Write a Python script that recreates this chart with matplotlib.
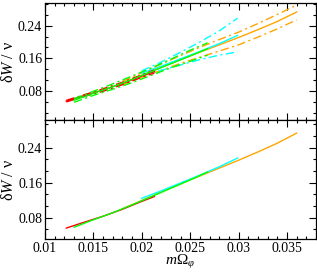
import matplotlib
matplotlib.use("Agg")
import matplotlib.pyplot as plt
from matplotlib.ticker import MultipleLocator

plt.rcParams['font.family'] = ['Liberation Serif', 'DejaVu Serif']
plt.rcParams['mathtext.fontset'] = 'custom'
plt.rcParams['mathtext.rm'] = 'Liberation Serif'
plt.rcParams['mathtext.it'] = 'Liberation Serif:italic'
plt.rcParams['font.size'] = 10

# curves: x, central value, upper and lower error bands
red_x = [0.0122, 0.014, 0.016, 0.018, 0.020, 0.0213]
red_mid = [0.056, 0.069, 0.083, 0.099, 0.117, 0.128]
red_hi = [0.058, 0.071, 0.086, 0.102, 0.120, 0.132]
red_lo = [0.054, 0.067, 0.080, 0.096, 0.114, 0.124]

green_x = [0.013, 0.015, 0.017, 0.019, 0.021, 0.023, 0.025, 0.0268]
green_mid = [0.058, 0.075, 0.091, 0.109, 0.128, 0.147, 0.166, 0.184]
green_hi = [0.062, 0.080, 0.098, 0.117, 0.137, 0.158, 0.180, 0.198]
green_lo = [0.053, 0.070, 0.085, 0.101, 0.119, 0.137, 0.153, 0.168]

orange_x = [0.018, 0.020, 0.022, 0.024, 0.026, 0.028, 0.030, 0.032, 0.034, 0.036]
orange_mid = [0.100, 0.119, 0.138, 0.157, 0.175, 0.193, 0.211, 0.230, 0.250, 0.273]
orange_hi = [0.104, 0.125, 0.146, 0.167, 0.187, 0.206, 0.224, 0.245, 0.267, 0.290]
orange_lo = [0.096, 0.114, 0.131, 0.148, 0.163, 0.178, 0.193, 0.212, 0.232, 0.254]

cyan_x = [0.020, 0.022, 0.024, 0.026, 0.028, 0.0299]
cyan_mid = [0.124, 0.141, 0.159, 0.177, 0.196, 0.216]
cyan_hi = [0.130, 0.151, 0.175, 0.200, 0.227, 0.258]
cyan_lo = [0.118, 0.131, 0.144, 0.157, 0.168, 0.176]

series = [
    ('#ffa500', orange_x, orange_mid, orange_hi, orange_lo),
    ('#00ffff', cyan_x, cyan_mid, cyan_hi, cyan_lo),
    ('#ff0000', red_x, red_mid, red_hi, red_lo),
    ('#00ff00', green_x, green_mid, green_hi, green_lo),
]

fig = plt.figure(figsize=(3.17, 2.76), dpi=100)
ax1 = fig.add_axes([45/317, 1 - 120/276, 271/317, 117/276])
ax2 = fig.add_axes([45/317, 1 - 239/276, 271/317, 119/276])

dashdot = (0, (6, 2.5, 1.5, 2.5))
for col, x, mid, hi, lo in series:
    ax1.plot(x, mid, color=col, lw=1.0)
    ax1.plot(x, hi, color=col, lw=1.0, linestyle=dashdot)
    ax1.plot(x, lo, color=col, lw=1.0, linestyle=dashdot)
    ax2.plot(x, mid, color=col, lw=1.0)

for ax in (ax1, ax2):
    ax.set_xlim(0.01, 0.038)
    ax.xaxis.set_major_locator(MultipleLocator(0.005))
    ax.xaxis.set_minor_locator(MultipleLocator(0.001))
    ax.yaxis.set_major_locator(MultipleLocator(0.08))
    ax.yaxis.set_minor_locator(MultipleLocator(0.08/3))
    ax.tick_params(which='both', direction='in', top=True, right=True, width=0.8)
    ax.tick_params(which='major', length=5, pad=2)
    ax.tick_params(which='minor', length=2.5)
    for s in ax.spines.values():
        s.set_linewidth(0.9)
    ax.set_yticks([0.08, 0.16, 0.24])
    ax.set_yticklabels(['0.08', '0.16', '0.24'])
    ax.set_ylabel('δ$W$ / ν', fontsize=11.5, labelpad=1)

ax1.set_ylim(0.01, 0.295)
ax2.set_ylim(0.031, 0.303)
ax1.tick_params(labelbottom=False)
ax2.set_xticks([0.01, 0.015, 0.02, 0.025, 0.03, 0.035])
ax2.set_xticklabels(['0.01', '0.015', '0.02', '0.025', '0.03', '0.035'])
ax2.set_xlabel('$m$Ω$_{φ}$', fontsize=11, labelpad=-1)

fig.savefig('out.png', dpi=100)
